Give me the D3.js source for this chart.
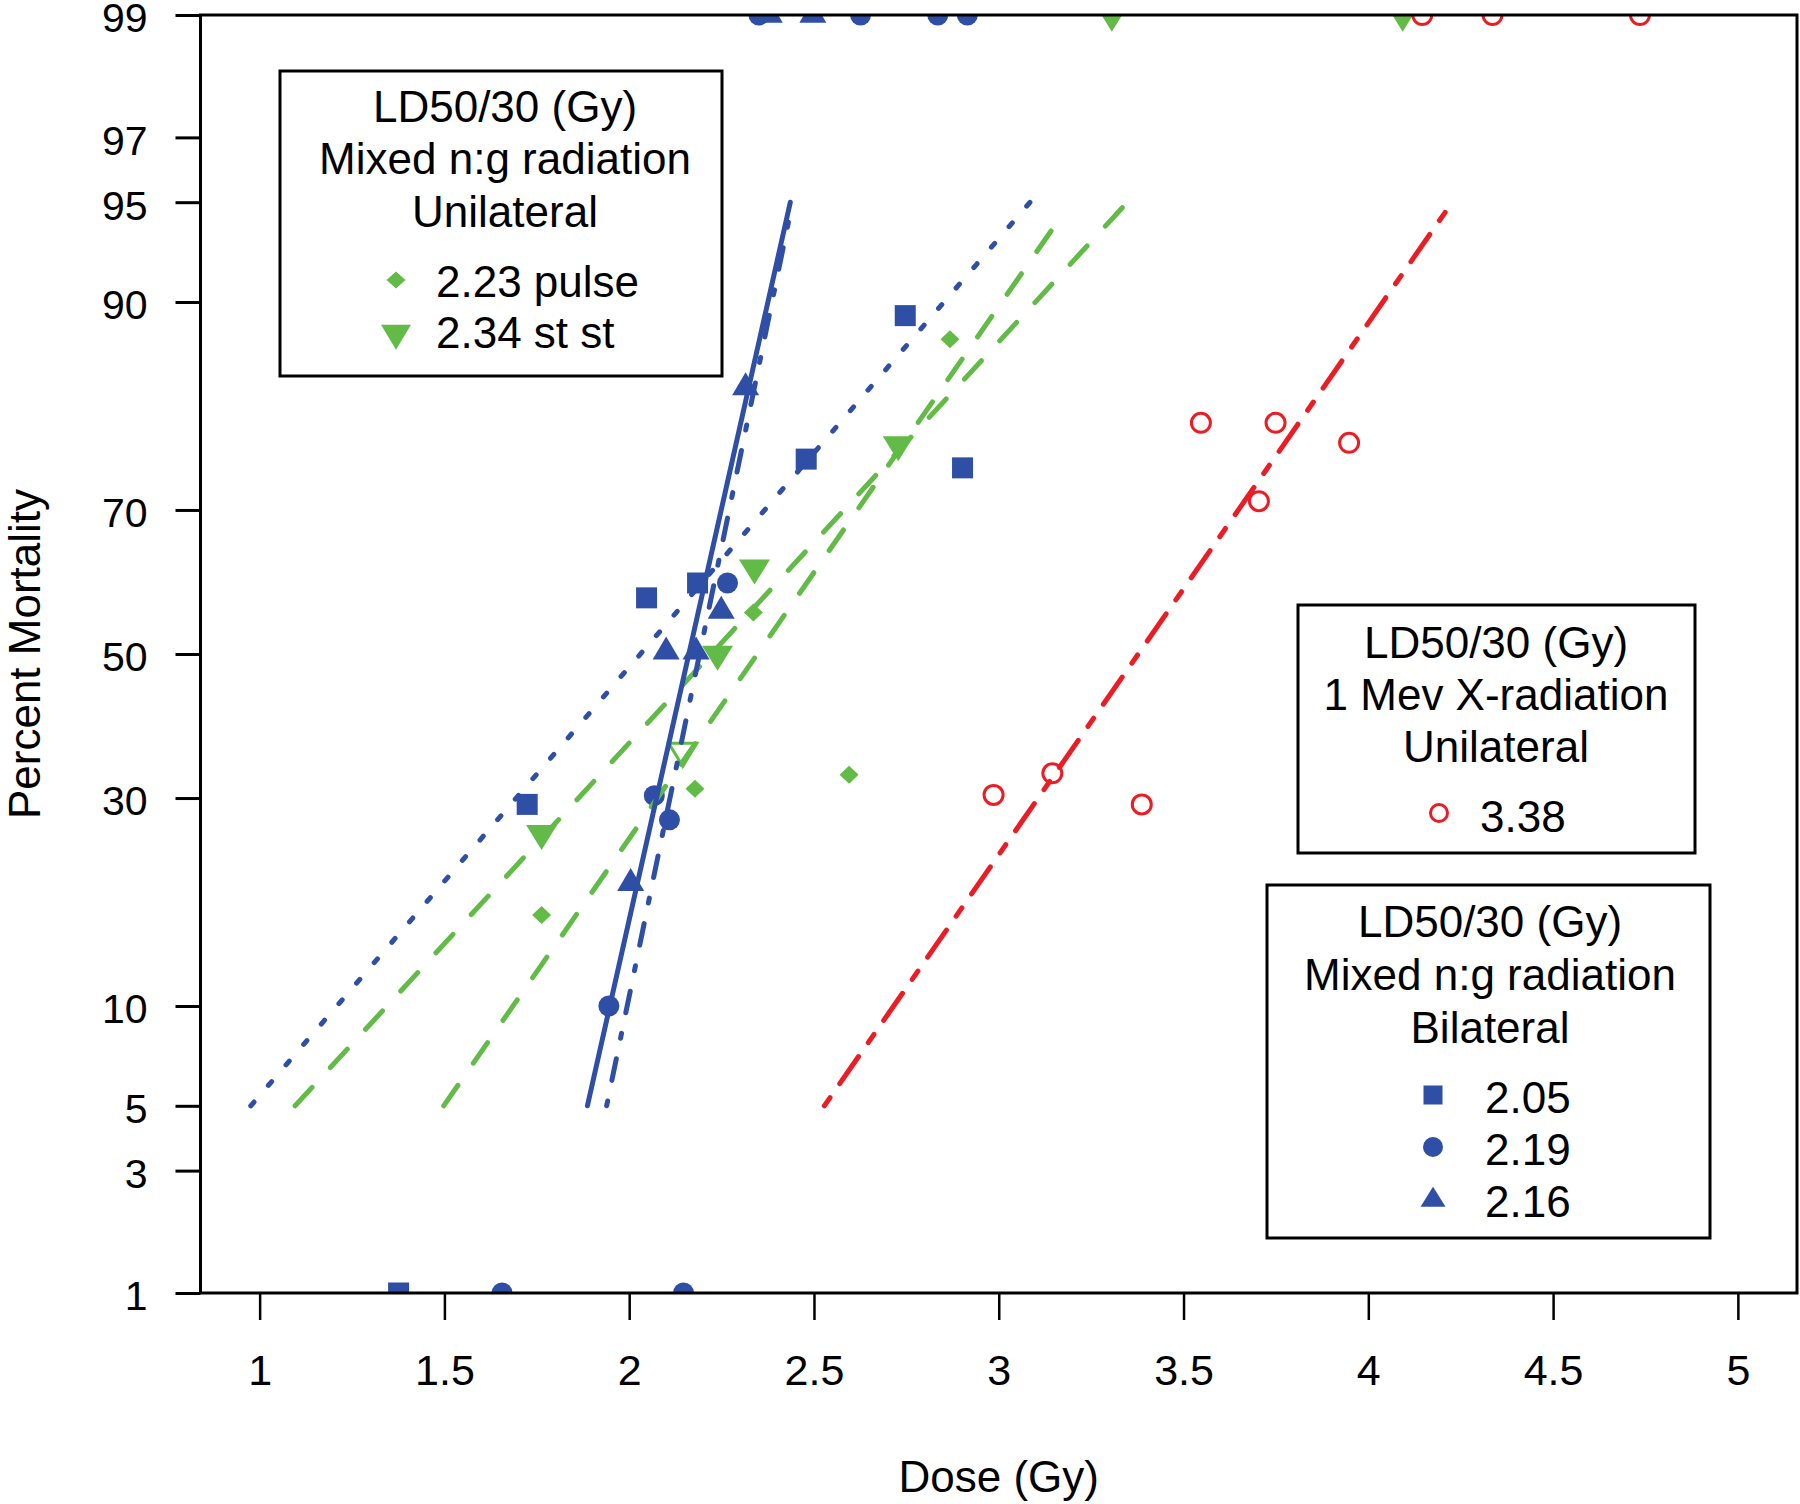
<!DOCTYPE html>
<html><head><meta charset="utf-8">
<script src="https://cdn.jsdelivr.net/npm/d3@7"></script>
<style>body{margin:0;background:#fff}svg{display:block}text{font-family:"Liberation Sans",Arial,sans-serif;fill:#000}</style>
</head><body>
<script>
// ---------- data ----------
const xTicks = [1, 1.5, 2, 2.5, 3, 3.5, 4, 4.5, 5];
const xTickLabels = ["1", "1.5", "2", "2.5", "3", "3.5", "4", "4.5", "5"];
const yTicks = [1, 3, 5, 10, 30, 50, 70, 90, 95, 97, 99];

// Mixed n:g bilateral, squares (LD50 2.05)
const sqDose = [1.376, 1.724, 2.047, 2.185, 2.479, 2.747, 2.902];
const sqPct  = [1, 29.2, 58.1, 60.2, 76.1, 89.1, 75.1];
// Mixed n:g bilateral, circles (LD50 2.19)
const ciDose = [1.656, 2.147, 1.945, 2.068, 2.109, 2.266, 2.351, 2.626, 2.835, 2.915];
const ciPct  = [1, 1, 10.0, 30.3, 27.3, 60.2, 99, 99, 99, 99];
// Mixed n:g bilateral, triangles (LD50 2.16)
const trDose = [2.004, 2.100, 2.181, 2.249, 2.315, 2.379, 2.497];
const trPct  = [20.2, 50.3, 50.3, 56.2, 83.4, 99, 99];
// Mixed n:g unilateral pulse, diamonds (LD50 2.23)
const dmDose = [1.763, 2.178, 2.336, 2.595, 2.868];
const dmPct  = [17.1, 31.2, 56.0, 33.0, 87.4];
// Mixed n:g unilateral steady state, down triangles (LD50 2.34)
const ssDose = [1.763, 2.239, 2.339, 2.728, 3.306, 4.093];
const ssPct  = [25.7, 50.0, 62.3, 77.7, 99, 99];
const ssOpenDose = [2.145];
const ssOpenPct  = [36.2];
// 1 MeV X-radiation unilateral, open circles (LD50 3.38)
const xrDose = [2.986, 3.145, 3.387, 3.547, 3.704, 3.749, 3.948, 4.146, 4.336, 4.735];
const xrPct  = [30.4, 33.2, 29.2, 80.0, 71.1, 80.0, 77.9, 99, 99, 99];

// fitted probit lines: [dose at start, % at start, dose at end, % at end]
const fitSquares   = [0.976, 5, 3.085, 95];
const fitTriangles = [1.887, 5, 2.436, 95];
const fitCircles   = [1.939, 5, 2.442, 95];
const fitPulse     = [1.096, 5, 3.348, 95];
const fitSteady    = [1.498, 5, 3.158, 94.2];
const fitXray      = [2.528, 5, 4.227, 95];

const legend1Title = ["LD50/30 (Gy)", "Mixed n:g radiation", "Unilateral"];
const legend1Items = ["2.23 pulse", "2.34 st st"];
const legend2Title = ["LD50/30 (Gy)", "1 Mev X-radiation", "Unilateral"];
const legend2Items = ["3.38"];
const legend3Title = ["LD50/30 (Gy)", "Mixed n:g radiation", "Bilateral"];
const legend3Items = ["2.05", "2.19", "2.16"];

// ---------- helpers ----------
function probit(p) {
  const a=[-3.969683028665376e+01,2.209460984245205e+02,-2.759285104469687e+02,1.383577518672690e+02,-3.066479806614716e+01,2.506628277459239e+00];
  const b=[-5.447609879822406e+01,1.615858368580409e+02,-1.556989798598866e+02,6.680131188771972e+01,-1.328068155288572e+01];
  const c=[-7.784894002430293e-03,-3.223964580411365e-01,-2.400758277161838e+00,-2.549732539343734e+00,4.374664141464968e+00,2.938163982698783e+00];
  const d=[7.784695709041462e-03,3.224671290700398e-01,2.445134137142996e+00,3.754408661907416e+00];
  const pl=0.02425, ph=1-pl;
  if (p < pl) { const q=Math.sqrt(-2*Math.log(p)); return (((((c[0]*q+c[1])*q+c[2])*q+c[3])*q+c[4])*q+c[5])/((((d[0]*q+d[1])*q+d[2])*q+d[3])*q+1); }
  if (p <= ph) { const q=p-0.5, r=q*q; return (((((a[0]*r+a[1])*r+a[2])*r+a[3])*r+a[4])*r+a[5])*q/(((((b[0]*r+b[1])*r+b[2])*r+b[3])*r+b[4])*r+1); }
  const q=Math.sqrt(-2*Math.log(1-p)); return -(((((c[0]*q+c[1])*q+c[2])*q+c[3])*q+c[4])*q+c[5])/((((d[0]*q+d[1])*q+d[2])*q+d[3])*q+1);
}
const sq = s => { const h=s/2; return `M${-h},${-h}h${s}v${s}h${-s}Z`; };
const dia = (w,h) => `M0,${-h/2}L${w/2},0L0,${h/2}L${-w/2},0Z`;
const triUp = (w,h) => `M0,${-2*h/3}L${w/2},${h/3}L${-w/2},${h/3}Z`;
const triDn = (w,h) => `M0,${2*h/3}L${w/2},${-h/3}L${-w/2},${-h/3}Z`;
const circ = r => `M${r},0A${r},${r} 0 1,1 ${-r},0A${r},${r} 0 1,1 ${r},0Z`;

const BLUE = "#2f4ea6", GREEN = "#62bb46", RED = "#ec1c24";

// ---------- layout ----------
const W = 1800, H = 1504;
const L = 200.5, R = 1797, T = 15, B = 1293;
const x = d3.scaleLinear().domain([0.84, 5.16]).range([L, R]);
const yz = d3.scaleLinear().domain([probit(0.01), probit(0.99)]).range([B, T]);
const y = pct => yz(probit(pct / 100));

const svg = d3.select("body").append("svg").attr("width", W).attr("height", H);
svg.append("defs").append("clipPath").attr("id", "plotclip")
  .append("rect").attr("x", L).attr("y", T).attr("width", R - L).attr("height", B - T);

const plot = svg.append("g").attr("clip-path", "url(#plotclip)");

function points(dose, pct, path, fill, stroke, sw) {
  plot.append("g").selectAll("path").data(dose.map((d, i) => [d, pct[i]])).join("path")
    .attr("d", path).attr("transform", d => `translate(${x(d[0])},${y(d[1])})`)
    .attr("fill", fill).attr("stroke", stroke || "none").attr("stroke-width", sw || 0);
}
points(sqDose, sqPct, sq(21), BLUE);
points(ciDose, ciPct, circ(10.5), BLUE);
points(trDose, trPct, triUp(27, 23), BLUE);
points(dmDose, dmPct, dia(19, 18), GREEN);
points(ssDose, ssPct, triDn(31, 25), GREEN);
points(ssOpenDose, ssOpenPct, triDn(28, 23), "none", GREEN, 3);
points(xrDose, xrPct, circ(9.5), "none", RED, 3);

function fitLine(f, color, dash) {
  plot.append("line")
    .attr("x1", x(f[0])).attr("y1", y(f[1])).attr("x2", x(f[2])).attr("y2", y(f[3]))
    .attr("stroke", color).attr("stroke-width", 5).attr("stroke-linecap", "round")
    .attr("stroke-dasharray", dash);
}
fitLine(fitSquares, BLUE, "5 22");
fitLine(fitPulse, GREEN, "25 27");
fitLine(fitSteady, GREEN, "25 27");
fitLine(fitCircles, BLUE, "5 21 22 21");
fitLine(fitTriangles, BLUE, null);
fitLine(fitXray, RED, "10 17 33 17");

// ---------- axes ----------
const yAxis = d3.axisLeft(yz).tickValues(yTicks.map(v => probit(v / 100)))
  .tickFormat((d, i) => String(yTicks[i])).tickSize(25).tickPadding(28);
const ga = svg.append("g").attr("transform", `translate(${L},0)`).call(yAxis);
ga.select(".domain").remove();
ga.selectAll(".tick line").attr("stroke", "#000").attr("stroke-width", 3);
ga.selectAll(".tick text").attr("font-size", 41).attr("dy", "0.41em")
  .style("font-family", '"Liberation Sans", Arial, sans-serif');

const xAxis = d3.axisBottom(x).tickValues(xTicks)
  .tickFormat((d, i) => xTickLabels[i]).tickSize(27).tickPadding(34);
const gx = svg.append("g").attr("transform", `translate(0,${B})`).call(xAxis);
gx.select(".domain").remove();
gx.selectAll(".tick line").attr("stroke", "#000").attr("stroke-width", 2.5);
gx.selectAll(".tick text").attr("font-size", 43).attr("dy", "0.71em")
  .style("font-family", '"Liberation Sans", Arial, sans-serif');

// frame
svg.append("rect").attr("x", L).attr("y", T).attr("width", R - L).attr("height", B - T)
  .attr("fill", "none").attr("stroke", "#000").attr("stroke-width", 3);

// titles
svg.append("text").attr("x", (L + R) / 2).attr("y", 1492).attr("text-anchor", "middle")
  .attr("font-size", 44).text("Dose (Gy)");
svg.append("text").attr("transform", `translate(40,${(T + B) / 2}) rotate(-90)`)
  .attr("text-anchor", "middle").attr("font-size", 44).text("Percent Mortality");

// ---------- legends ----------
function legend(box, cx, titleY, titles, items, markX, markYs, textX, textYs, marks) {
  svg.append("rect").attr("x", box[0]).attr("y", box[1]).attr("width", box[2] - box[0])
    .attr("height", box[3] - box[1]).attr("fill", "#fff").attr("stroke", "#000").attr("stroke-width", 3);
  titles.forEach((t, i) => svg.append("text").attr("x", cx).attr("y", titleY[i])
    .attr("text-anchor", "middle").attr("font-size", 44).text(t));
  items.forEach((t, i) => {
    svg.append("path").attr("d", marks[i].d).attr("transform", `translate(${markX},${markYs[i]})`)
      .attr("fill", marks[i].fill).attr("stroke", marks[i].stroke || "none").attr("stroke-width", marks[i].sw || 0);
    svg.append("text").attr("x", textX).attr("y", textYs[i]).attr("font-size", 44).text(t);
  });
}
legend([280, 71, 722, 376], 505, [122, 174, 227], legend1Title, legend1Items,
  396, [280, 333], 436, [297, 348],
  [{d: dia(19, 17), fill: GREEN}, {d: triDn(30, 25), fill: GREEN}]);
legend([1298, 605, 1695, 853], 1496, [658, 710, 762], legend2Title, legend2Items,
  1439, [813], 1480, [832],
  [{d: circ(8.5), fill: "none", stroke: RED, sw: 3}]);
legend([1267, 885, 1710, 1238], 1490, [937, 990, 1043], legend3Title, legend3Items,
  1433, [1095, 1147, 1200], 1485, [1113, 1165, 1217],
  [{d: sq(19), fill: BLUE}, {d: circ(10), fill: BLUE}, {d: triUp(25, 20), fill: BLUE}]);
</script>
</body></html>
